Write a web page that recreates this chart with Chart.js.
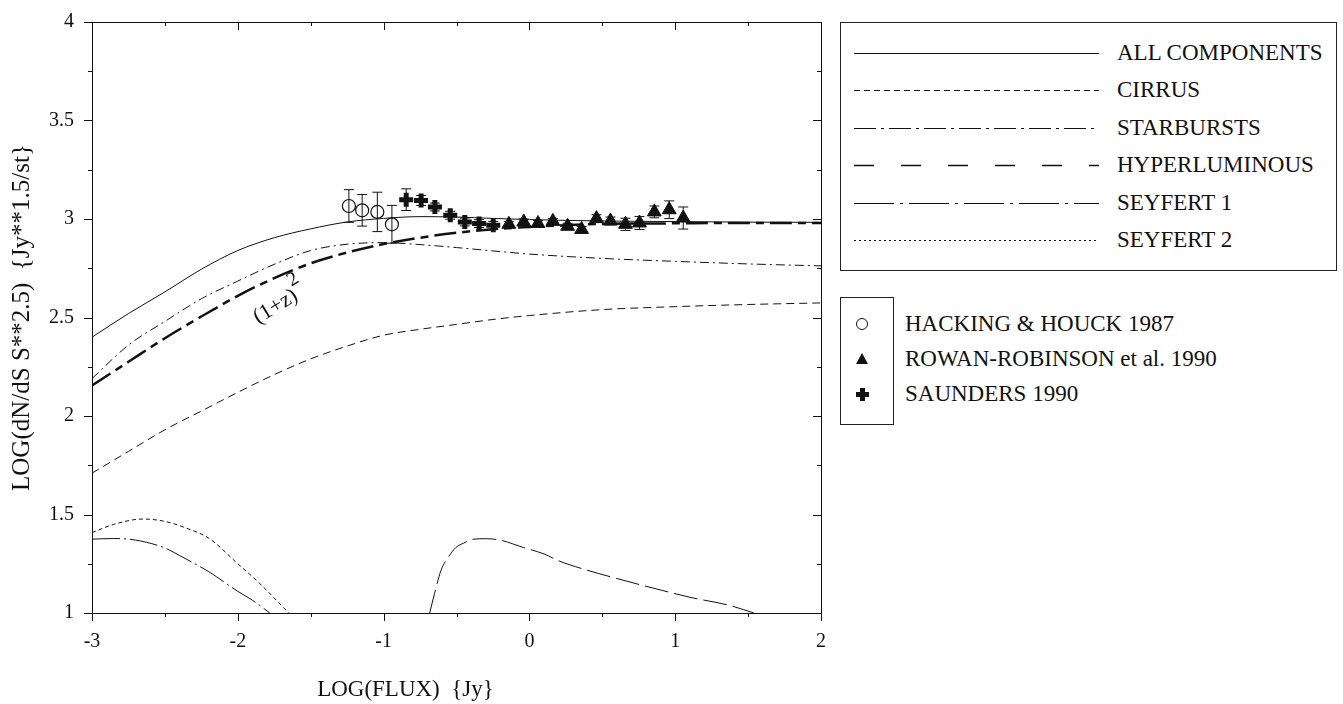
<!DOCTYPE html>
<html>
<head>
<meta charset="utf-8">
<script src="https://cdn.jsdelivr.net/npm/chart.js@4.4.1/dist/chart.umd.min.js"></script>
<style>
  body { margin: 0; background: #fff; width: 1343px; height: 704px; position: relative; overflow: hidden;
         font-family: "Liberation Serif", "Times New Roman", serif; color: #111; }
  #wrap { position: absolute; left: 0; top: 0; width: 835px; height: 704px; }
  .box { position: absolute; border: 1px solid #222; box-sizing: border-box; }
  .txt { position: absolute; font-size: 23px; line-height: 26px; white-space: nowrap; }
  .smp { position: absolute; }
</style>
</head>
<body>
<div id="wrap"><canvas id="chart" width="835" height="704"></canvas></div>
<div class="box" id="box1" style="left:840px;top:22px;width:497px;height:249px;"></div>
<div class="box" id="box2" style="left:840px;top:297px;width:54px;height:128px;"></div>
<script>
"use strict";

// model curves, common grid
const gridX = [-3, -2.75, -2.5, -2.25, -2, -1.75, -1.5, -1.25, -1, -0.75, -0.5, -0.25, 0, 0.5, 1, 1.5, 2];
const allY = [2.40, 2.52, 2.63, 2.745, 2.84, 2.905, 2.95, 2.985, 3.003, 3.012, 3.01, 3.003, 2.997, 2.99, 2.987, 2.984, 2.983];
const cirrusY = [1.71, 1.82, 1.93, 2.025, 2.12, 2.21, 2.29, 2.355, 2.41, 2.44, 2.465, 2.49, 2.51, 2.54, 2.555, 2.566, 2.574];
const starY = [2.19, 2.36, 2.48, 2.595, 2.685, 2.77, 2.84, 2.872, 2.88, 2.87, 2.855, 2.838, 2.822, 2.80, 2.785, 2.772, 2.762];
const evolY = [2.155, 2.275, 2.395, 2.505, 2.61, 2.70, 2.775, 2.83, 2.873, 2.905, 2.93, 2.948, 2.96, 2.975, 2.978, 2.98, 2.98];

const sey1X = [-3, -2.85, -2.7, -2.5, -2.4, -2.2, -2, -1.9, -1.78];
const sey1Y = [1.375, 1.378, 1.37, 1.33, 1.292, 1.21, 1.11, 1.065, 1.0];
const sey2X = [-3, -2.85, -2.65, -2.5, -2.35, -2.2, -2, -1.85, -1.65];
const sey2Y = [1.408, 1.45, 1.477, 1.465, 1.43, 1.38, 1.25, 1.15, 1.0];
const hyperX = [-0.684, -0.65, -0.607, -0.55, -0.505, -0.45, -0.38, -0.3, -0.2, -0.04, 0.1, 0.2, 0.37, 0.6, 0.914, 1.1, 1.37, 1.54];
const hyperY = [1.0, 1.10, 1.215, 1.29, 1.332, 1.355, 1.375, 1.377, 1.37, 1.332, 1.30, 1.265, 1.223, 1.175, 1.114, 1.08, 1.039, 1.0];

// observed counts
const hhX = [-1.238, -1.147, -1.043, -0.943];
const hhY = [3.066, 3.044, 3.036, 2.973];
const hhErr = [0.083, 0.08, 0.10, 0.096];
const rrX = [-0.141, -0.039, 0.059, 0.161, 0.262, 0.358, 0.46, 0.556, 0.659, 0.755, 0.857, 0.959, 1.055];
const rrY = [2.973, 2.985, 2.977, 2.988, 2.963, 2.947, 3.002, 2.99, 2.973, 2.98, 3.036, 3.047, 3.005];
const rrErr = [0.015, 0.015, 0.015, 0.015, 0.015, 0.015, 0.02, 0.02, 0.031, 0.033, 0.03, 0.045, 0.056];
const sauX = [-0.845, -0.743, -0.648, -0.543, -0.443, -0.345, -0.248];
const sauY = [3.098, 3.094, 3.061, 3.019, 2.985, 2.977, 2.968];
const sauErr = [0.055, 0.025, 0.02, 0.02, 0.02, 0.02, 0.02];

const curveNames = ['ALL COMPONENTS', 'CIRRUS', 'STARBURSTS', 'HYPERLUMINOUS', 'SEYFERT 1', 'SEYFERT 2'];
const pointNames = ['HACKING & HOUCK 1987', 'ROWAN-ROBINSON et al. 1990', 'SAUNDERS 1990'];

const INK = '#111';
const FONT = '"Liberation Serif", "Times New Roman", serif';
const toXY = (xs, ys) => xs.map((v, i) => ({x: v, y: ys[i]}));

const line = (label, xs, ys, dash, width) => ({
  label: label,
  data: toXY(xs, ys),
  showLine: true,
  borderColor: INK,
  borderWidth: width || 1,
  borderDash: dash,
  pointRadius: 0,
  cubicInterpolationMode: 'monotone',
  order: 2,
});

const errorSets = [
  {x: hhX, y: hhY, err: hhErr},
  {x: rrX, y: rrY, err: rrErr},
  {x: sauX, y: sauY, err: sauErr},
];

const extras = {
  id: 'extras',
  beforeDatasetsDraw(chart) {
    const {ctx, scales: {x, y}} = chart;
    ctx.save();
    ctx.strokeStyle = INK;
    ctx.lineWidth = 1;
    errorSets.forEach(s => s.x.forEach((v, i) => {
      const px = x.getPixelForValue(v);
      const top = y.getPixelForValue(s.y[i] + s.err[i]);
      const bot = y.getPixelForValue(s.y[i] - s.err[i]);
      ctx.beginPath();
      ctx.moveTo(px, top); ctx.lineTo(px, bot);
      ctx.moveTo(px - 5, top); ctx.lineTo(px + 5, top);
      ctx.moveTo(px - 5, bot); ctx.lineTo(px + 5, bot);
      ctx.stroke();
    }));
    ctx.restore();
  },
  afterDraw(chart) {
    const {ctx, chartArea: a, scales: {x, y}} = chart;
    ctx.save();
    ctx.strokeStyle = INK;
    ctx.lineWidth = 1;
    ctx.strokeRect(Math.round(a.left) + 0.5, Math.round(a.top) + 0.5,
      Math.round(a.right - a.left), Math.round(a.bottom - a.top));
    ctx.beginPath();
    for (let k = 0; k <= 12; k++) {
      const v = 1 + k * 0.25;
      const py = Math.round(y.getPixelForValue(v)) + 0.5;
      const len = k % 2 === 0 ? 8 : 4;
      ctx.moveTo(a.left, py); ctx.lineTo(a.left - len, py);
      ctx.moveTo(a.right, py); ctx.lineTo(a.right - len, py);
    }
    for (let k = 0; k <= 10; k++) {
      const v = -3 + k * 0.5;
      const px = Math.round(x.getPixelForValue(v)) + 0.5;
      const len = k % 2 === 0 ? 8 : 4;
      ctx.moveTo(px, a.bottom); ctx.lineTo(px, a.bottom + len);
      ctx.moveTo(px, a.top); ctx.lineTo(px, a.top + len);
    }
    ctx.stroke();

    // (1+z)^2 label along the evolving curve
    ctx.fillStyle = INK;
    ctx.translate(x.getPixelForValue(-1.74), y.getPixelForValue(2.555));
    ctx.rotate(-0.55);
    ctx.font = '22px ' + FONT;
    ctx.textAlign = 'center';
    ctx.textBaseline = 'middle';
    ctx.fillText('(1+z)', 0, 0);
    ctx.font = '20px ' + FONT;
    ctx.fillText('2', 29, -14);
    ctx.restore();

    ctx.save();
    ctx.fillStyle = INK;
    ctx.font = '23px ' + FONT;
    ctx.textAlign = 'center';
    ctx.textBaseline = 'middle';
    ctx.fillText('LOG(FLUX)  {Jy}', a.left + 0.43 * (a.right - a.left), a.bottom + 77);
    ctx.restore();
  }
};

Chart.defaults.font.family = FONT;
Chart.defaults.color = INK;

new Chart(document.getElementById('chart'), {
  type: 'scatter',
  data: {
    datasets: [
      {
        label: pointNames[0], data: toXY(hhX, hhY), pointStyle: 'circle', pointRadius: 6.5,
        borderColor: INK, backgroundColor: 'rgba(0,0,0,0)', borderWidth: 1.2, order: 0,
      },
      {
        label: pointNames[1], data: toXY(rrX, rrY), pointStyle: 'triangle', pointRadius: 8,
        borderColor: INK, backgroundColor: INK, borderWidth: 1, order: 0,
      },
      {
        label: pointNames[2], data: toXY(sauX, sauY), pointStyle: 'cross', pointRadius: 7,
        borderColor: INK, borderWidth: 5, order: 0,
      },
      line(curveNames[0], gridX, allY, []),
      line(curveNames[1], gridX, cirrusY, [8, 5]),
      line(curveNames[2], gridX, starY, [9, 4, 2, 4]),
      line(curveNames[3], hyperX, hyperY, [24, 6]),
      line(curveNames[4], sey1X, sey1Y, [28, 4, 2, 4]),
      line(curveNames[5], sey2X, sey2Y, [4, 3]),
      line('(1+z)^2', gridX, evolY, [22, 6, 8, 6], 2.5),
    ],
  },
  options: {
    responsive: false,
    animation: false,
    layout: {padding: {left: 0, top: 17, right: 9, bottom: 0}},
    scales: {
      x: {
        type: 'linear', min: -3, max: 2,
        grid: {display: false},
        border: {display: false},
        ticks: {stepSize: 1, padding: 9, font: {size: 20}, callback: v => String(v)},
        afterFit: scale => { scale.height = 91; },
      },
      y: {
        type: 'linear', min: 1, max: 4,
        grid: {display: false},
        border: {display: false},
        ticks: {stepSize: 0.5, padding: 10, font: {size: 20}, callback: v => String(v)},
        title: {
          display: true, text: 'LOG(dN/dS S**2.5)  {Jy**1.5/st}',
          font: {size: 25}, padding: {top: 7, bottom: 0},
        },
        afterFit: scale => { scale.width = 92; },
      },
    },
    plugins: {
      legend: {display: false},
      tooltip: {enabled: false},
    },
  },
  plugins: [extras],
});

// legend boxes
const sampleDash = [[], [6, 4], [22, 5, 3, 5], [20, 27], [40, 6, 3, 6], [2, 3]];
curveNames.forEach((name, i) => {
  const cy = 53 + i * 37.4;
  const c = document.createElement('canvas');
  c.className = 'smp';
  c.width = 245; c.height = 10;
  c.style.left = '854px';
  c.style.top = (cy - 5) + 'px';
  const g = c.getContext('2d');
  g.strokeStyle = INK;
  g.lineWidth = i === 3 ? 1.5 : 1.2;
  g.setLineDash(sampleDash[i]);
  g.beginPath();
  g.moveTo(0, 5.5); g.lineTo(245, 5.5);
  g.stroke();
  document.body.appendChild(c);
  const t = document.createElement('div');
  t.className = 'txt';
  t.textContent = name;
  t.style.left = '1117px';
  t.style.top = (cy - 13) + 'px';
  document.body.appendChild(t);
});

pointNames.forEach((name, i) => {
  const cy = 324 + i * 35;
  const c = document.createElement('canvas');
  c.className = 'smp';
  c.width = 16; c.height = 16;
  c.style.left = '854px';
  c.style.top = (cy - 8) + 'px';
  const g = c.getContext('2d');
  g.strokeStyle = INK; g.fillStyle = INK;
  if (i === 0) {
    g.lineWidth = 1;
    g.beginPath(); g.arc(8, 8, 5.5, 0, Math.PI * 2); g.stroke();
  } else if (i === 1) {
    g.beginPath(); g.moveTo(8, 2); g.lineTo(14, 13); g.lineTo(2, 13); g.closePath(); g.fill();
  } else {
    g.fillRect(6, 2, 5, 13); g.fillRect(2, 6, 13, 5);
  }
  document.body.appendChild(c);
  const t = document.createElement('div');
  t.className = 'txt';
  t.textContent = name;
  t.style.left = '905px';
  t.style.top = (cy - 13) + 'px';
  document.body.appendChild(t);
});
</script>
</body>
</html>
